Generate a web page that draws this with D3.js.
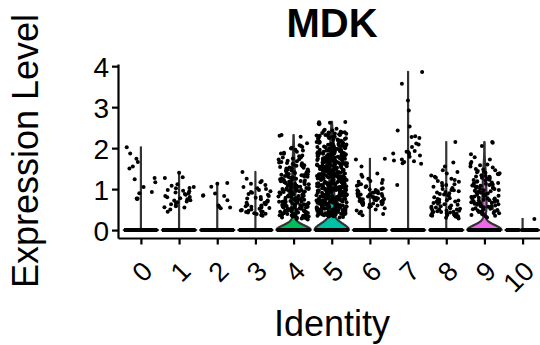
<!DOCTYPE html>
<html>
<head>
<meta charset="utf-8">
<script src="https://cdn.jsdelivr.net/npm/d3@7"></script>
<style>
body { margin: 0; background: #fff; }
text { font-family: "Liberation Sans", Arial, sans-serif; fill: #000; }
</style>
</head>
<body>
<svg id="chart" width="540" height="345"></svg>
<script>
// MDK violin plot (Seurat VlnPlot style)

var gene = "MDK";
var clusters = ["0", "1", "2", "3", "4", "5", "6", "7", "8", "9", "10"];
var yTicks = [0, 1, 2, 3, 4];

// cells with zero expression in each cluster (the black band at 0)
var zeroCounts = [300, 320, 280, 300, 400, 700, 300, 150, 300, 240, 60];

// non-zero expression values
var c0 = [2.02, 1.66, 1.87, 1.74, 1.5, 1.55, 1.27, 1.24, 1.17, 1.05, 0.93, 0.9, 0.77, 0.77, 0.76];
var c1 = [1.4, 0.86, 1.29, 0.72, 0.95, 1.05, 0.6, 0.81, 1.27, 0.68, 0.9, 1.12, 0.55, 0.78, 1.02, 0.63,
    0.98, 0.45, 0.83, 1.08, 0.7, 0.92, 0.58, 0.88, 1.03, 0.66, 0.75, 0.5, 0.96, 0.8, 0.73, 0.56];
var c2 = [1.15, 1.06, 0.89, 0.84, 0.57, 0.6, 0.73, 1.13, 0.85, 0.83, 0.53, 0.55];
var c3 = [1.42, 1.2, 0.62, 0.48, 1.05, 0.55, 0.91, 0.38, 0.72, 1.17, 0.44, 0.86, 0.58, 1.0, 0.41, 0.67,
    0.95, 0.5, 0.79, 0.36, 1.1, 0.63, 0.46, 0.83, 0.54, 0.98, 0.4, 0.7, 1.25, 0.52, 0.88, 0.45, 0.6,
    0.75, 0.39, 1.02, 0.57, 0.81, 0.43, 0.66, 0.93, 0.49, 0.35, 0.77, 0.59, 1.13, 0.47, 0.69];
var c4 = [0.27, 0.41, 0.33, 0.48, 0.36, 0.44, 0.3, 0.39, 0.46, 0.34, 0.42, 0.28, 0.37, 0.49, 0.32, 0.45,
    0.38, 0.26, 0.43, 0.35, 0.47, 0.31, 0.4, 0.29, 0.44, 0.36, 0.5, 0.33, 0.41, 0.38, 0.46, 0.3, 0.43, 0.35, 0.48,
    0.52, 0.66, 0.74, 0.58, 0.71, 0.55, 0.79, 0.62, 0.69, 0.53, 0.76, 0.6, 0.67, 0.57, 0.73, 0.64, 0.51,
    0.78, 0.61, 0.7, 0.56, 0.75, 0.63, 0.68, 0.54, 0.72, 0.59, 0.77, 0.65, 0.52, 0.7, 0.58, 0.74, 0.62,
    0.8, 0.55, 0.67, 0.61, 0.76, 0.57, 0.69, 0.64, 0.73, 0.53, 0.66,
    0.82, 0.96, 1.04, 0.88, 1.01, 0.85, 1.09, 0.92, 0.99, 0.83, 1.06, 0.9, 0.97, 0.87, 1.03, 0.94, 0.81,
    1.08, 0.91, 1.0, 0.86, 1.05, 0.93, 0.98, 0.84, 1.02, 0.89, 1.07, 0.95, 0.82, 1.0, 0.88, 1.04, 0.92,
    1.1, 0.85, 0.97, 0.91, 1.06, 0.87, 0.99, 0.94, 1.03, 0.83, 0.96,
    1.12, 1.26, 1.34, 1.18, 1.31, 1.15, 1.39, 1.22, 1.29, 1.13, 1.36, 1.2, 1.27, 1.17, 1.33, 1.24, 1.11,
    1.38, 1.21, 1.3, 1.16, 1.35, 1.23, 1.28, 1.14, 1.32, 1.19, 1.37, 1.25, 1.12, 1.3, 1.18, 1.34, 1.22, 1.4,
    1.42, 1.56, 1.64, 1.48, 1.61, 1.45, 1.69, 1.52, 1.59, 1.43, 1.66, 1.5, 1.57, 1.47, 1.63, 1.54, 1.41,
    1.68, 1.51, 1.6, 1.46, 1.65, 1.53, 1.58,
    1.72, 1.86, 1.94, 1.78, 1.91, 1.75, 1.99, 1.82, 1.89, 1.73, 1.96, 1.8, 1.87, 1.77,
    2.32, 2.3, 2.28, 2.05, 2.03, 2.01, 2.07, 2.12];
var c5 = [0.31, 0.44, 0.52, 0.38, 0.57, 0.35, 0.49, 0.41, 0.55, 0.33, 0.46, 0.59, 0.36, 0.5, 0.43, 0.54,
    0.39, 0.47, 0.58, 0.32, 0.45, 0.53, 0.37, 0.51, 0.42, 0.56, 0.34, 0.48, 0.6, 0.4, 0.44, 0.57, 0.36,
    0.52, 0.47, 0.39, 0.55, 0.42, 0.5, 0.58, 0.35, 0.46, 0.53, 0.41, 0.59, 0.38, 0.49, 0.56, 0.43, 0.51,
    0.37, 0.54, 0.45, 0.48, 0.4, 0.57, 0.34, 0.52, 0.46, 0.55, 0.42, 0.5, 0.39, 0.58, 0.44, 0.53, 0.36,
    0.47, 0.56, 0.41,
    0.62, 0.75, 0.84, 0.68, 0.79, 0.71, 0.88, 0.65, 0.77, 0.82, 0.7, 0.86, 0.63, 0.74, 0.81, 0.67, 0.89,
    0.72, 0.78, 0.85, 0.61, 0.76, 0.83, 0.69, 0.8, 0.73, 0.87, 0.64, 0.78, 0.84, 0.66, 0.75, 0.88, 0.7,
    0.82, 0.62, 0.77, 0.86, 0.68, 0.73, 0.81, 0.65, 0.79, 0.87, 0.71, 0.76, 0.83, 0.63, 0.74, 0.89, 0.67,
    0.8, 0.72, 0.85, 0.61, 0.78, 0.69, 0.84, 0.75, 0.66, 0.82, 0.7, 0.88, 0.64, 0.77, 0.73, 0.86, 0.68,
    0.8, 0.62, 0.79, 0.71, 0.85, 0.67, 0.83,
    0.91, 1.04, 1.15, 0.97, 1.09, 0.94, 1.18, 1.01, 1.12, 0.96, 1.07, 1.19, 0.93, 1.03, 1.14, 0.99, 1.1,
    0.92, 1.06, 1.17, 1.0, 1.13, 0.95, 1.08, 1.16, 0.98, 1.05, 1.11, 0.93, 1.2, 1.02, 1.09, 0.96, 1.15,
    1.04, 0.91, 1.12, 0.99, 1.07, 1.18, 0.94, 1.01, 1.14, 0.97, 1.1, 1.05, 0.92, 1.16, 1.03, 1.08, 0.98,
    1.13, 0.95, 1.19, 1.06, 1.0, 1.11, 0.93, 1.17, 1.04, 0.96, 1.09, 1.02, 1.15, 0.99, 1.12, 0.94, 1.07,
    1.18, 1.01, 1.1, 0.97, 1.14, 1.05, 0.92,
    1.21, 1.34, 1.45, 1.27, 1.39, 1.24, 1.48, 1.31, 1.42, 1.26, 1.37, 1.49, 1.23, 1.33, 1.44, 1.29, 1.4,
    1.22, 1.36, 1.47, 1.3, 1.43, 1.25, 1.38, 1.46, 1.28, 1.35, 1.41, 1.23, 1.5, 1.32, 1.39, 1.26, 1.45,
    1.34, 1.21, 1.42, 1.29, 1.37, 1.48, 1.24, 1.31, 1.44, 1.27, 1.4, 1.35, 1.22, 1.46, 1.33, 1.38, 1.28,
    1.43, 1.25, 1.49, 1.36, 1.3, 1.41, 1.23, 1.47, 1.34, 1.26, 1.39, 1.32, 1.45, 1.29, 1.42, 1.24, 1.37,
    1.48, 1.31,
    1.51, 1.64, 1.75, 1.57, 1.69, 1.54, 1.78, 1.61, 1.72, 1.56, 1.67, 1.79, 1.53, 1.63, 1.74, 1.59, 1.7,
    1.52, 1.66, 1.77, 1.6, 1.73, 1.55, 1.68, 1.76, 1.58, 1.65, 1.71, 1.53, 1.8, 1.62, 1.69, 1.56, 1.75,
    1.64, 1.51, 1.72, 1.59, 1.67, 1.78, 1.54, 1.61, 1.74, 1.57, 1.7, 1.65, 1.52, 1.76, 1.63, 1.68, 1.58,
    1.73, 1.55, 1.79, 1.66, 1.6, 1.71, 1.53, 1.77, 1.64, 1.56, 1.69, 1.62, 1.75, 1.59,
    1.81, 1.94, 2.05, 1.87, 1.99, 1.84, 2.08, 1.91, 2.02, 1.86, 1.97, 2.09, 1.83, 1.93, 2.04, 1.89, 2.0,
    1.82, 1.96, 2.07, 1.9, 2.03, 1.85, 1.98, 2.06, 1.88, 1.95, 2.01, 1.83, 2.1, 1.92, 1.99, 1.86, 2.05,
    1.94, 1.81, 2.02, 1.89, 1.97, 2.08, 1.84, 1.91, 2.04, 1.87, 2.0, 1.95, 1.82, 2.06, 1.93, 1.98, 1.88,
    2.03, 1.85, 2.09, 1.96,
    2.11, 2.24, 2.35, 2.17, 2.29, 2.14, 2.38, 2.21, 2.32, 2.16, 2.27, 2.39, 2.13, 2.23, 2.34, 2.19, 2.3,
    2.12, 2.26, 2.37, 2.2, 2.33, 2.15, 2.28, 2.36, 2.18, 2.25, 2.31, 2.13, 2.4, 2.22, 2.29, 2.16, 2.35,
    2.24, 2.11, 2.32, 2.19, 2.27, 2.38,
    2.64, 2.62, 2.6, 2.61, 2.58, 2.45, 2.43, 2.42, 2.47, 2.63];
var c6 = [1.74, 1.72, 1.55, 0.82, 0.65, 1.05, 0.74, 0.93, 0.58, 1.18, 0.86, 0.7, 0.97, 0.45, 1.38, 0.79,
    0.62, 1.1, 0.88, 0.53, 1.35, 0.76, 0.99, 0.67, 0.84, 0.41, 1.02, 0.72, 0.9, 0.6, 1.22, 0.8, 0.69,
    0.95, 0.36, 1.12, 0.77, 0.87, 0.63, 1.3, 0.73, 0.92, 0.56, 1.07, 0.83, 0.68, 0.98, 0.48, 1.25, 0.75,
    0.89, 0.66, 1.15, 0.81, 0.71, 0.94, 0.39, 1.0, 0.78, 0.85, 0.61, 1.2, 0.74, 0.91, 0.5, 1.08, 0.84, 0.64];
var c7 = [3.86, 3.57, 3.16, 2.92, 2.53, 2.43, 2.29, 2.27, 2.25, 2.11, 2.09, 2.03, 1.93, 1.91, 1.9, 1.87,
    1.86, 1.82, 1.79, 1.72, 1.7, 1.68, 1.66, 1.63, 1.62, 1.1];
var c8 = [2.15, 0.52, 1.65, 0.38, 0.9, 1.46, 0.44, 0.72, 1.3, 0.33, 0.98, 0.58, 1.55, 0.41, 0.8, 1.12,
    0.47, 0.66, 1.38, 0.3, 0.93, 0.55, 1.22, 0.36, 0.76, 1.03, 0.49, 0.62, 1.42, 0.28, 0.85, 0.43, 1.18,
    0.56, 0.7, 1.33, 0.39, 0.95, 0.5, 1.08, 0.34, 0.78, 0.6, 1.25, 0.45, 0.88, 0.37, 1.0, 0.54, 0.68,
    1.15, 0.42, 0.83, 0.32, 0.74, 1.28, 0.48, 0.64, 1.06, 0.35, 0.92, 0.57, 1.2, 0.4, 0.73, 0.46, 0.87,
    0.53, 1.1, 0.36, 0.63, 0.97, 0.44, 0.69, 0.51];
var c9 = [0.35, 0.48, 0.56, 0.41, 0.52, 0.38, 0.59, 0.45, 0.5, 0.33, 0.57, 0.43, 0.49, 0.39, 0.54, 0.46,
    0.31, 0.58, 0.42, 0.51, 0.37, 0.55, 0.44, 0.47, 0.53,
    0.62, 0.76, 0.84, 0.68, 0.81, 0.65, 0.89, 0.72, 0.79, 0.63, 0.86, 0.7, 0.77, 0.67, 0.83, 0.74, 0.61,
    0.88, 0.71, 0.8, 0.66, 0.85, 0.73, 0.78, 0.64, 0.82, 0.69, 0.87, 0.75, 0.6,
    0.92, 1.06, 1.14, 0.98, 1.11, 0.95, 1.19, 1.02, 1.09, 0.93, 1.16, 1.0, 1.07, 0.97, 1.13, 1.04, 0.91,
    1.18, 1.01, 1.1, 0.96, 1.15, 1.03, 1.08, 0.94,
    1.22, 1.36, 1.44, 1.28, 1.41, 1.25, 1.49, 1.32, 1.39, 1.23, 1.46, 1.3, 1.37, 1.27, 1.43, 1.34, 1.21,
    1.48, 1.31, 1.4,
    2.15, 2.13, 2.05, 1.85, 1.78, 1.72, 1.66, 1.6, 1.55, 1.53, 1.62, 1.58];
var c10 = [0.27];
var nonZero = [c0, c1, c2, c3, c4, c5, c6, c7, c8, c9, c10];

// ggplot default hue palette for 11 groups
var colors = ["#F8766D", "#DB8E00", "#AEA200", "#64B200", "#00BD5C", "#00C1A7",
    "#00BADE", "#00A6FF", "#B385FF", "#EF67EB", "#FF63B6"];

var svg = d3.select("#chart");

var x = d3.scalePoint()
    .domain(clusters)
    .range([118, 545.5])
    .padding(0.6);
var step = x.step();

var yMax = d3.max(nonZero, function(d) { return d3.max(d); });
var y = d3.scaleLinear()
    .domain([-0.05 * yMax, 1.05 * yMax])
    .range([238, 64]);

// bw.nrd0, like R
function bwNrd0(vals) {
    var s = vals.slice().sort(d3.ascending);
    var iqr = d3.quantile(s, 0.75) - d3.quantile(s, 0.25);
    var lo = Math.min(d3.deviation(s), iqr / 1.34);
    // Seurat adds ~1e-5 noise, so an all-zero IQR ends up that small
    if (!(lo > 0)) lo = 1e-5;
    return 0.9 * lo * Math.pow(s.length, -0.2);
}

var violins = clusters.map(function(c, k) {
    var nz = nonZero[k], z = zeroCounts[k];
    var all = d3.range(z).map(function() { return 0; }).concat(nz);
    var bw = bwNrd0(all);
    var lo = 0, hi = d3.max(nz);
    var grid = d3.range(512).map(function(j) { return lo + (hi - lo) * j / 511; });
    var dens = grid.map(function(g) {
        var u0 = g / bw;
        var s = z * Math.exp(-0.5 * u0 * u0);
        nz.forEach(function(v) {
            var u = (g - v) / bw;
            s += Math.exp(-0.5 * u * u);
        });
        return s;
    });
    var maxD = d3.max(dens);
    return grid.map(function(g, j) {
        return {v: g, w: dens[j] / maxD * 0.45 * step};
    });
});

// violins
svg.append("g").selectAll("path")
    .data(violins)
    .enter().append("path")
    .attr("d", function(d, k) {
        var cx = x(clusters[k]);
        return d3.area()
            .y(function(p) { return y(p.v); })
            .x0(function(p) { return cx - p.w; })
            .x1(function(p) { return cx + p.w; })(d);
    })
    .attr("fill", function(d, k) { return colors[k]; })
    .attr("stroke", "#333333")
    .attr("stroke-width", 2.2)
    .attr("stroke-linejoin", "round");

// jitter like geom_jitter(height = 0), deterministic
function jit(k, i) {
    var h = Math.sin((k + 1) * 127.1 + i * 311.7) * 43758.5453;
    return h - Math.floor(h);
}

var pts = [];
clusters.forEach(function(c, k) {
    var vals = d3.range(zeroCounts[k]).map(function() { return 0; }).concat(nonZero[k]);
    vals.forEach(function(v, i) {
        pts.push({k: k, v: v, dx: (jit(k, i) * 2 - 1) * 0.4 * step});
    });
});

svg.append("g").selectAll("circle")
    .data(pts)
    .enter().append("circle")
    .attr("cx", function(d) { return x(clusters[d.k]) + d.dx; })
    .attr("cy", function(d) { return y(d.v); })
    .attr("r", 2)
    .attr("fill", "#000");

// axes
var yAxis = svg.append("g")
    .attr("transform", "translate(118,0)")
    .call(d3.axisLeft(y).tickValues(yTicks).tickFormat(d3.format("d"))
        .tickSize(6).tickSizeOuter(0).tickPadding(3));
yAxis.selectAll("text")
    .attr("font-size", 28)
    .attr("dy", "0.36em")
    .style("font-family", "'Liberation Sans', Arial, sans-serif");

var xAxis = svg.append("g")
    .attr("transform", "translate(0,238)")
    .call(d3.axisBottom(x).tickSize(6.5).tickSizeOuter(0));
xAxis.selectAll("text")
    .attr("font-size", 27)
    .attr("x", 0)
    .attr("y", 0)
    .attr("dy", "0.72em")
    .attr("text-anchor", "end")
    .attr("transform", "translate(-1,21) rotate(-45)")
    .style("font-family", "'Liberation Sans', Arial, sans-serif");

svg.selectAll(".domain, .tick line")
    .attr("stroke", "#000")
    .attr("stroke-width", 2.2);

// titles
svg.append("text")
    .attr("x", 332)
    .attr("y", 37)
    .attr("text-anchor", "middle")
    .attr("font-size", 40)
    .attr("font-weight", "bold")
    .text(gene);

svg.append("text")
    .attr("x", 332)
    .attr("y", 336)
    .attr("text-anchor", "middle")
    .attr("font-size", 36)
    .text("Identity");

svg.append("text")
    .attr("transform", "translate(38,151) rotate(-90)")
    .attr("text-anchor", "middle")
    .attr("font-size", 36)
    .text("Expression Level");
</script>
</body>
</html>
